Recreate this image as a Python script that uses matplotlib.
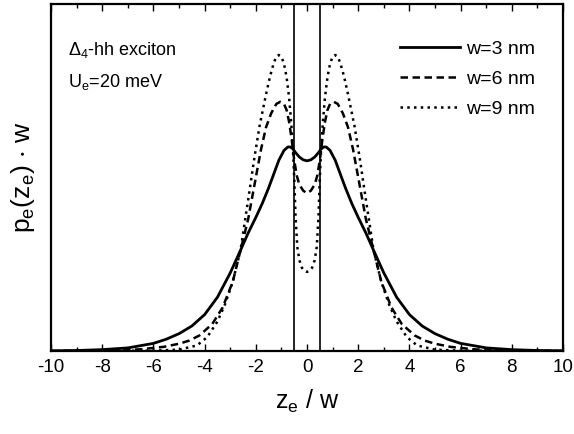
import numpy as np
import matplotlib
matplotlib.use('Agg')
import matplotlib.pyplot as plt
from matplotlib.ticker import MultipleLocator

plt.rcParams['font.family'] = ['Liberation Sans', 'DejaVu Sans']
plt.rcParams['mathtext.default'] = 'regular'
plt.rcParams['axes.unicode_minus'] = False

# half profiles (z >= 0), curves are symmetric around z = 0
z3 = [0, 0.15, 0.3, 0.45, 0.55, 0.65, 0.75, 0.9, 1.1, 1.3, 1.5, 1.75, 2.0, 2.3, 2.6,
      3.0, 3.5, 4.0, 4.5, 5.0, 5.5, 6.0, 7.0, 8.0, 9.0, 10.0]
p3 = [0.548, 0.551, 0.559, 0.572, 0.582, 0.588, 0.588, 0.578, 0.55, 0.51, 0.47, 0.425,
      0.385, 0.34, 0.29, 0.225, 0.155, 0.105, 0.072, 0.05, 0.034, 0.022, 0.009, 0.004,
      0.0015, 0.0005]

z6 = [0, 0.15, 0.3, 0.4, 0.5, 0.6, 0.7, 0.8, 0.9, 1.05, 1.2, 1.4, 1.6, 1.8, 2.0, 2.3,
      2.6, 2.9, 3.3, 3.7, 4.2, 4.6, 5.0, 5.6, 6.5, 7.5, 10.0]
p6 = [0.455, 0.462, 0.48, 0.505, 0.55, 0.61, 0.66, 0.695, 0.712, 0.718, 0.712, 0.685,
      0.645, 0.58, 0.5, 0.38, 0.29, 0.2, 0.125, 0.078, 0.045, 0.03, 0.021, 0.012, 0.005,
      0.002, 0.0]

z9 = [0, 0.1, 0.2, 0.3, 0.38, 0.45, 0.5, 0.55, 0.62, 0.7, 0.8, 0.9, 1.0, 1.1, 1.2,
      1.3, 1.45, 1.6, 1.85, 2.05, 2.25, 2.6, 2.9, 3.2, 3.5, 3.9, 4.3, 5.0, 6.0, 10.0]
p9 = [0.228, 0.231, 0.24, 0.262, 0.3, 0.39, 0.5, 0.58, 0.66, 0.73, 0.79, 0.828, 0.848,
      0.853, 0.848, 0.83, 0.79, 0.74, 0.65, 0.56, 0.46, 0.29, 0.2, 0.135, 0.085, 0.04,
      0.016, 0.004, 0.001, 0.0]

labels = ['w=3 nm', 'w=6 nm', 'w=9 nm']
well_edges = [-0.5, 0.5]


def mirror(z, p):
    z = np.array(z)
    p = np.array(p)
    return np.concatenate([-z[::-1], z[1:]]), np.concatenate([p[::-1], p[1:]])


fig = plt.figure(figsize=(5.74, 4.34), dpi=100)
ax = fig.add_axes([0.0889, 0.1912, 0.8920, 0.7996])

x, y = mirror(z3, p3)
ax.plot(x, y, color='black', lw=2.0, ls='-', label=labels[0])
x, y = mirror(z6, p6)
ax.plot(x, y, color='black', lw=1.8, ls=(0, (3.0, 1.8)), label=labels[1])
x, y = mirror(z9, p9)
ax.plot(x, y, color='black', lw=1.8, ls=(0, (1, 1.7)), label=labels[2])

for e in well_edges:
    ax.axvline(e, color='black', lw=1.2)

ax.set_xlim(-10, 10)
ax.set_ylim(0, 1)
ax.xaxis.set_major_locator(MultipleLocator(2))
ax.xaxis.set_minor_locator(MultipleLocator(1))
ax.tick_params(axis='x', which='both', direction='in', top=True, labelsize=13.5, pad=6)
ax.tick_params(axis='x', which='major', length=5, width=1)
ax.tick_params(axis='x', which='minor', length=3, width=1)
ax.set_yticks([])
for s in ax.spines.values():
    s.set_linewidth(1.6)

ax.set_xlabel('$z_e$ / w', fontsize=18, labelpad=8)
ax.set_ylabel(r'$p_e(z_e)$ $\cdot$ w', fontsize=19, labelpad=10)

ax.text(0.033, 0.853, r'$\Delta_4$-hh exciton', transform=ax.transAxes, fontsize=13,
        va='baseline', ha='left')
ax.text(0.033, 0.761, '$U_e$=20 meV', transform=ax.transAxes, fontsize=13,
        va='baseline', ha='left')

ax.legend(loc='upper right', frameon=False, fontsize=14, handlelength=3.1,
          handletextpad=0.3, labelspacing=0.62, bbox_to_anchor=(0.98, 0.945))

fig.savefig('out.png', dpi=100)
